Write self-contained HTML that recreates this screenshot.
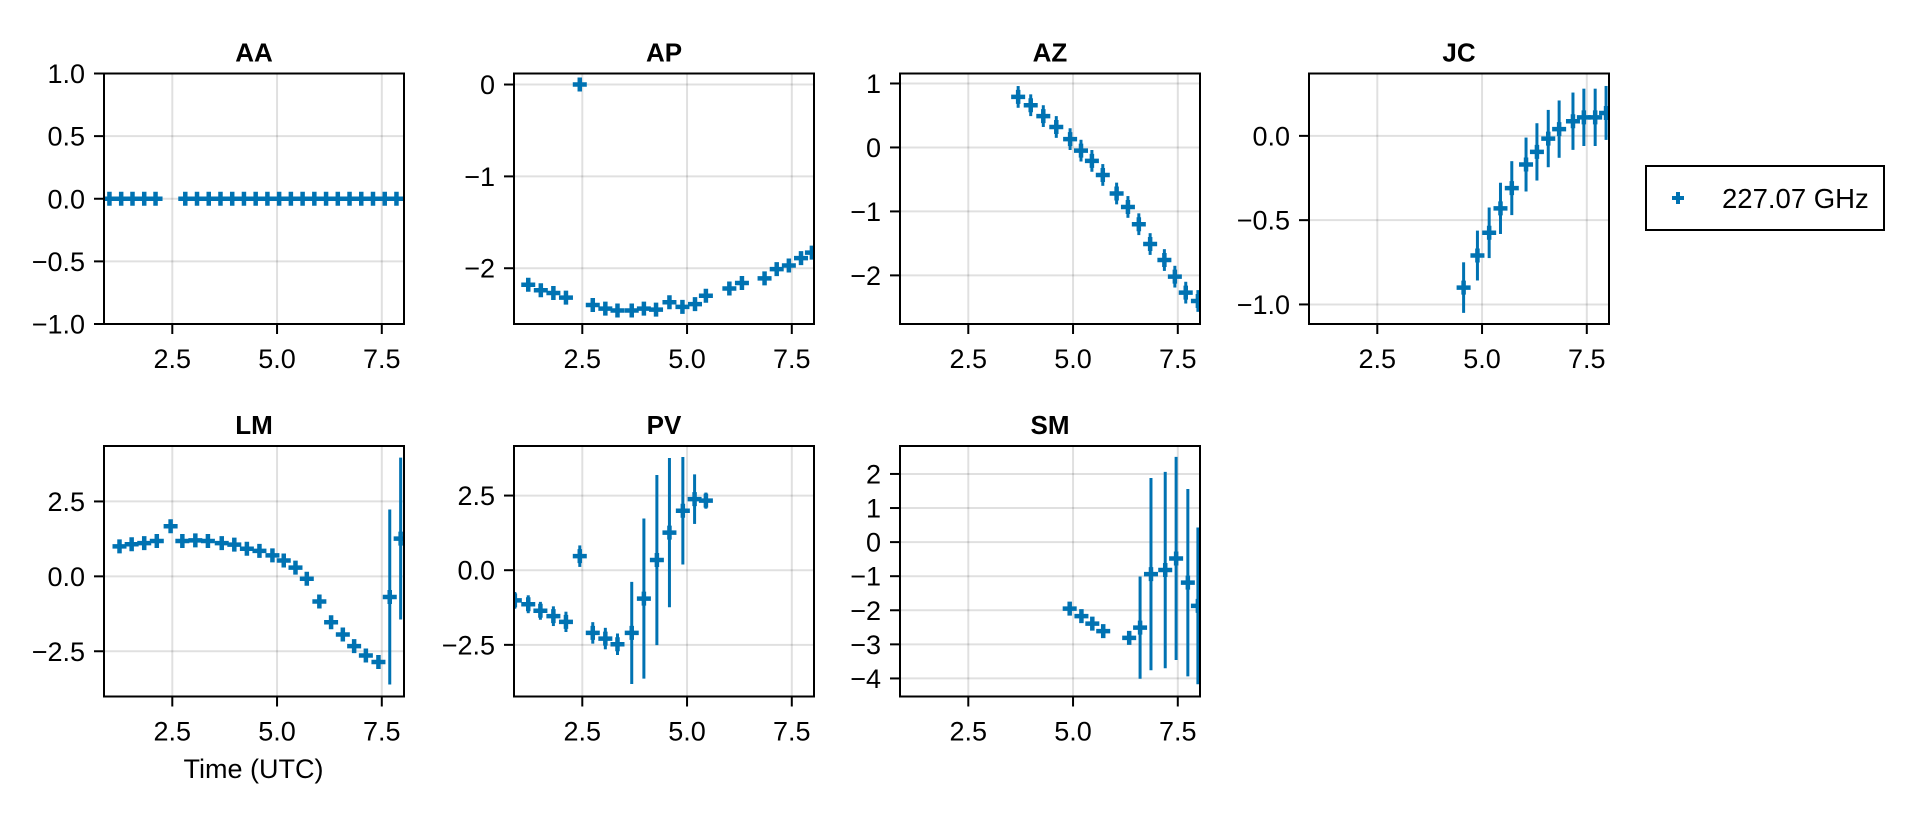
<!DOCTYPE html>
<html><head><meta charset="utf-8"><title>Phase vs time</title>
<style>
html,body{margin:0;padding:0;background:#fff;}
svg{display:block;font-family:"Liberation Sans",Arial,sans-serif;}
</style></head>
<body>
<svg id="chart" width="1916" height="814" viewBox="0 0 1916 814" xmlns="http://www.w3.org/2000/svg">
<rect x="0" y="0" width="1916" height="814" fill="#fff"/>
<g id="panels"></g>
<g id="legend">
  <rect x="1646" y="166" width="238" height="64" fill="#fff" stroke="#000" stroke-width="2"/>
  <g>
    <rect x="1672" y="196" width="12" height="4" fill="#0072b2"/>
    <rect x="1676" y="192" width="4" height="12" fill="#0072b2"/>
  </g>
  <text x="1722" y="208" font-size="27.5" fill="#000">227.07 GHz</text>
</g>
<text x="253.5" y="778" font-size="27" text-anchor="middle" fill="#000">Time (UTC)</text>
</svg>
<script>
// ---- data ----
const panelNames = ["AA","AP","AZ","JC","LM","PV","SM"];
const xTicks = [2.5, 5.0, 7.5];
const xTickLabels = ["2.5","5.0","7.5"];

const tAA = [1.0,1.28,1.55,1.83,2.1,2.81,3.09,3.37,3.65,3.93,4.21,4.49,4.77,5.05,5.33,5.61,5.89,6.17,6.45,6.73,7.01,7.29,7.57,7.85];
const vAA = [0,0,0,0,0,0,0,0,0,0,0,0,0,0,0,0,0,0,0,0,0,0,0,0];
const eAA = [0,0,0,0,0,0,0,0,0,0,0,0,0,0,0,0,0,0,0,0,0,0,0,0];

const tAP = [1.21,1.51,1.81,2.11,2.44,2.75,3.05,3.34,3.68,3.97,4.26,4.58,4.89,5.19,5.45,6.01,6.31,6.85,7.14,7.43,7.72,7.98];
const vAP = [-2.18,-2.24,-2.27,-2.32,0,-2.40,-2.44,-2.46,-2.46,-2.44,-2.45,-2.37,-2.42,-2.39,-2.30,-2.22,-2.16,-2.11,-2.01,-1.97,-1.89,-1.83];
const eAP = [0.03,0.03,0.03,0.03,0.03,0.03,0.03,0.03,0.03,0.03,0.03,0.03,0.03,0.03,0.03,0.03,0.03,0.03,0.03,0.03,0.03,0.03];

const tAZ = [3.69,3.99,4.29,4.60,4.93,5.19,5.45,5.71,6.04,6.31,6.57,6.84,7.18,7.43,7.69,7.98];
const vAZ = [0.79,0.66,0.49,0.32,0.13,-0.05,-0.21,-0.43,-0.72,-0.93,-1.20,-1.51,-1.76,-2.02,-2.27,-2.40];
const eAZ = [0.17,0.17,0.17,0.17,0.17,0.17,0.17,0.17,0.17,0.17,0.17,0.17,0.17,0.17,0.17,0.17];

const tJC = [4.56,4.89,5.17,5.44,5.71,6.05,6.31,6.58,6.84,7.17,7.43,7.70,7.96];
const vJC = [-0.90,-0.71,-0.575,-0.43,-0.31,-0.17,-0.095,-0.016,0.04,0.087,0.11,0.11,0.136];
const eJC = [0.15,0.148,0.15,0.152,0.16,0.16,0.17,0.17,0.17,0.17,0.17,0.17,0.16];

const tLM = [1.24,1.53,1.83,2.13,2.46,2.74,3.05,3.35,3.68,3.98,4.28,4.58,4.89,5.16,5.44,5.71,6.01,6.29,6.57,6.84,7.12,7.42,7.69,7.95];
const vLM = [1.00,1.07,1.11,1.18,1.67,1.18,1.20,1.18,1.11,1.06,0.92,0.85,0.70,0.53,0.29,-0.08,-0.84,-1.53,-1.94,-2.33,-2.64,-2.86,-0.69,1.26];
const eLM = [0.1,0.1,0.1,0.1,0.1,0.1,0.1,0.1,0.1,0.1,0.1,0.1,0.1,0.1,0.1,0.1,0.1,0.1,0.1,0.1,0.1,0.1,2.92,2.7];

const tPV = [0.89,1.21,1.50,1.81,2.11,2.44,2.75,3.05,3.34,3.68,3.97,4.28,4.58,4.90,5.18,5.45];
const vPV = [-1.01,-1.14,-1.36,-1.54,-1.73,0.47,-2.10,-2.29,-2.48,-2.10,-0.95,0.34,1.26,1.99,2.38,2.33];
const ePV = [0.28,0.3,0.3,0.33,0.34,0.36,0.36,0.36,0.36,1.71,2.68,2.85,2.5,1.8,0.83,0.27];

const tSM = [4.92,5.20,5.46,5.72,6.34,6.60,6.86,7.20,7.46,7.74,7.98];
const vSM = [-1.95,-2.17,-2.39,-2.61,-2.81,-2.51,-0.94,-0.82,-0.48,-1.19,-1.87];
const eSM = [0.08,0.08,0.08,0.08,0.08,1.5,2.82,2.88,2.98,2.75,2.3];

const yTicksAA = [-1,-0.5,0,0.5,1]; const yLabelsAA = ["\u22121.0","\u22120.5","0.0","0.5","1.0"];
const yTicksAP = [-2,-1,0]; const yLabelsAP = ["\u22122","\u22121","0"];
const yTicksAZ = [-2,-1,0,1]; const yLabelsAZ = ["\u22122","\u22121","0","1"];
const yTicksJC = [-1,-0.5,0]; const yLabelsJC = ["\u22121.0","\u22120.5","0.0"];
const yTicksLM = [-2.5,0,2.5]; const yLabelsLM = ["\u22122.5","0.0","2.5"];
const yTicksPV = [-2.5,0,2.5]; const yLabelsPV = ["\u22122.5","0.0","2.5"];
const yTicksSM = [-4,-3,-2,-1,0,1,2]; const yLabelsSM = ["\u22124","\u22123","\u22122","\u22121","0","1","2"];

const yLimsAA = [-1, 1];
const yLimsAP = [-2.607, 0.12];
const yLimsAZ = [-2.76, 1.156];
const yLimsJC = [-1.116, 0.37];
const yLimsLM = [-4.01, 4.35];
const yLimsPV = [-4.23, 4.16];
const yLimsSM = [-4.53, 2.82];
const xLims = [0.87, 8.03];

// ---- layout ----
const SVGNS = "http://www.w3.org/2000/svg";
const COLOR = "#0072b2";
const boxes = [
  {x:104,y:73.5,w:300,h:250.5},{x:514,y:73.5,w:300,h:250.5},{x:900,y:73.5,w:300,h:250.5},{x:1309,y:73.5,w:300,h:250.5},
  {x:104,y:446,w:300,h:250.5},{x:514,y:446,w:300,h:250.5},{x:900,y:446,w:300,h:250.5}
];
const series = [
  [tAA,vAA,eAA,yTicksAA,yLabelsAA,yLimsAA],
  [tAP,vAP,eAP,yTicksAP,yLabelsAP,yLimsAP],
  [tAZ,vAZ,eAZ,yTicksAZ,yLabelsAZ,yLimsAZ],
  [tJC,vJC,eJC,yTicksJC,yLabelsJC,yLimsJC],
  [tLM,vLM,eLM,yTicksLM,yLabelsLM,yLimsLM],
  [tPV,vPV,ePV,yTicksPV,yLabelsPV,yLimsPV],
  [tSM,vSM,eSM,yTicksSM,yLabelsSM,yLimsSM]
];
function mk(tag, attrs, parent){
  const e = document.createElementNS(SVGNS, tag);
  for (const k in attrs) e.setAttribute(k, attrs[k]);
  if (parent) parent.appendChild(e);
  return e;
}
const root = document.getElementById("panels");
const defs = mk("defs", {}, root);

panelNames.forEach(function(name, i){
  const b = boxes[i];
  const s = series[i];
  const tArr = s[0], vArr = s[1], eArr = s[2], yt = s[3], yl = s[4], ylim = s[5];
  const xs = function(v){ return b.x + (v - xLims[0]) / (xLims[1] - xLims[0]) * b.w; };
  const ys = function(v){ return b.y + b.h - (v - ylim[0]) / (ylim[1] - ylim[0]) * b.h; };
  const key = name.toLowerCase();

  const g = mk("g", {}, root);
  
  

  const cp = mk("clipPath", {id: "clip" + i}, defs);
  mk("rect", {x: b.x, y: b.y, width: b.w, height: b.h}, cp);

  const grid = mk("g", {stroke: "rgba(0,0,0,0.12)", "stroke-width": 2}, g);
  
  
  xTicks.forEach(function(t){ mk("line", {x1: xs(t), x2: xs(t), y1: b.y, y2: b.y + b.h}, grid); });
  yt.forEach(function(t){ mk("line", {x1: b.x, x2: b.x + b.w, y1: ys(t), y2: ys(t)}, grid); });

  const dg = mk("g", {"clip-path": "url(#clip" + i + ")", fill: COLOR}, g);
  
  
  tArr.forEach(function(t, j){
    const cx = xs(t), cy = ys(vArr[j]);
    if (eArr[j] > 0) {
      const eb = mk("line", {x1: cx, x2: cx, y1: ys(vArr[j] + eArr[j]), y2: ys(vArr[j] - eArr[j]), stroke: COLOR, "stroke-width": 3}, dg);
      
      
    }
    const m = mk("path", {d: "M" + (cx - 7) + " " + (cy - 2.25) + "h4.75v-4.75h4.5v4.75h4.75v4.5h-4.75v4.75h-4.5v-4.75h-4.75z"}, dg);
    
    
  });

  const fr = mk("rect", {x: b.x, y: b.y, width: b.w, height: b.h, fill: "none", stroke: "#000", "stroke-width": 2}, g);
  
  

  const xa = mk("g", {}, g);
  
  
  xTicks.forEach(function(t, j){
    mk("line", {x1: xs(t), x2: xs(t), y1: b.y + b.h, y2: b.y + b.h + 10, stroke: "#000", "stroke-width": 2}, xa);
    const tx = mk("text", {x: xs(t), y: b.y + b.h + 44, "font-size": 27, "text-anchor": "middle", fill: "#000"}, xa);
    tx.textContent = xTickLabels[j];
    
    
  });
  const ya = mk("g", {}, g);
  
  
  yt.forEach(function(t, j){
    mk("line", {x1: b.x - 10, x2: b.x, y1: ys(t), y2: ys(t), stroke: "#000", "stroke-width": 2}, ya);
    const tx = mk("text", {x: b.x - 19, y: ys(t) + 9.5, "font-size": 27, "text-anchor": "end", fill: "#000"}, ya);
    tx.textContent = yl[j];
    
    
  });
  const ti = mk("text", {x: b.x + b.w / 2, y: b.y - 12, "font-size": 26, "font-weight": "bold", "text-anchor": "middle", fill: "#000"}, g);
  ti.textContent = name;
  
  
});
</script>
</body></html>
